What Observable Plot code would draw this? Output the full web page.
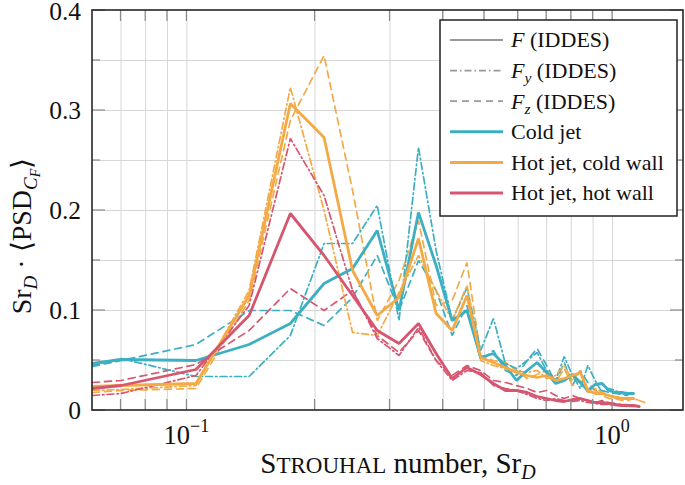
<!DOCTYPE html>
<html><head><meta charset="utf-8">
<script src="https://cdn.jsdelivr.net/npm/d3@7"></script>
<script src="https://cdn.jsdelivr.net/npm/@observablehq/plot@0.6"></script>
<style>
body{margin:0;background:#fff;}
#chart{width:685px;height:485px;}
svg text, svg tspan{font-family:"Liberation Serif","Times New Roman",serif;}
</style></head><body><div id="chart"></div>
<script>
// Strouhal numbers of the spectral bins
const strouhal = [0.06, 0.07, 0.105, 0.14, 0.175, 0.21, 0.245, 0.28, 0.315, 0.35, 0.385, 0.42, 0.455, 0.49, 0.525, 0.56, 0.595, 0.63, 0.665, 0.70, 0.735, 0.77, 0.805, 0.84, 0.875, 0.91, 0.945, 0.98, 1.015, 1.05, 1.085, 1.12, 1.155, 1.19];

const coldF  = [0.047, 0.051, 0.050, 0.066, 0.087, 0.127, 0.142, 0.180, 0.100, 0.198, 0.145, 0.090, 0.100, 0.053, 0.057, 0.045, 0.030, 0.040, 0.048, 0.038, 0.027, 0.030, 0.036, 0.028, 0.020, 0.026, 0.027, 0.020, 0.018, 0.018, 0.017, 0.017, null, null];
const coldFy = [0.045, 0.052, 0.034, 0.034, 0.075, 0.167, 0.167, 0.205, 0.090, 0.263, 0.160, 0.090, 0.123, 0.060, 0.092, 0.047, 0.042, 0.050, 0.058, 0.040, 0.030, 0.054, 0.035, 0.022, 0.045, 0.030, 0.018, 0.022, 0.020, 0.017, 0.016, null, null, null];
const coldFz = [0.044, 0.050, 0.066, 0.100, 0.100, 0.085, 0.113, 0.155, 0.100, 0.150, 0.120, 0.075, 0.105, 0.050, 0.060, 0.040, 0.035, 0.050, 0.062, 0.045, 0.028, 0.048, 0.025, 0.040, 0.028, 0.020, 0.020, 0.018, 0.017, 0.016, 0.015, null, null, null];

const hotColdF  = [0.024, 0.025, 0.027, 0.115, 0.307, 0.273, 0.140, 0.095, 0.113, 0.172, 0.097, 0.080, 0.115, 0.053, 0.048, 0.043, 0.038, 0.035, 0.033, 0.035, 0.030, 0.032, 0.035, 0.038, 0.020, 0.017, 0.017, 0.015, 0.013, 0.012, 0.012, 0.012, null, null];
const hotColdFy = [0.020, 0.021, 0.025, 0.120, 0.323, 0.200, 0.078, 0.075, 0.118, 0.155, 0.120, 0.090, 0.125, 0.050, 0.045, 0.042, 0.040, 0.038, 0.040, 0.032, 0.035, 0.045, 0.030, 0.040, 0.020, 0.022, 0.018, 0.015, 0.014, 0.013, 0.012, 0.012, 0.010, null];
const hotColdFz = [0.018, 0.020, 0.022, 0.110, 0.290, 0.355, 0.220, 0.090, 0.130, 0.190, 0.105, 0.110, 0.148, 0.055, 0.050, 0.048, 0.040, 0.032, 0.036, 0.040, 0.028, 0.042, 0.025, 0.030, 0.018, 0.020, 0.015, 0.012, 0.012, 0.010, 0.010, 0.012, 0.010, 0.008];

const hotHotF  = [0.022, 0.025, 0.041, 0.095, 0.197, 0.155, 0.115, 0.080, 0.067, 0.087, 0.057, 0.032, 0.043, 0.036, 0.027, 0.020, 0.020, 0.018, 0.014, 0.012, 0.010, 0.009, 0.011, 0.012, 0.010, 0.008, 0.008, 0.007, 0.006, 0.005, 0.005, 0.005, 0.004, null];
const hotHotFy = [0.015, 0.017, 0.035, 0.105, 0.272, 0.215, 0.120, 0.072, 0.055, 0.083, 0.050, 0.030, 0.040, 0.038, 0.025, 0.022, 0.020, 0.016, 0.012, 0.010, 0.012, 0.010, 0.009, 0.010, 0.008, 0.007, 0.006, 0.006, 0.005, 0.005, 0.004, 0.004, null, null];
const hotHotFz = [0.028, 0.030, 0.046, 0.080, 0.122, 0.100, 0.120, 0.075, 0.058, 0.080, 0.050, 0.035, 0.045, 0.040, 0.030, 0.028, 0.025, 0.022, 0.018, 0.020, 0.015, 0.012, 0.015, 0.012, 0.010, 0.008, 0.010, 0.008, 0.007, 0.006, 0.006, 0.005, null, null];

const caseNames = ["Cold jet", "Hot jet, cold wall", "Hot jet, hot wall"];
const caseColors = ["#3cafc2", "#f3aa45", "#d6566f"];
const xMajorTicks = [0.1, 1];
const xGrid = [0.07, 0.08, 0.09, 0.1, 0.2, 0.3, 0.4, 0.5, 0.6, 0.7, 0.8, 0.9, 1.0];
const yMajorTicks = [0, 0.1, 0.2, 0.3, 0.4];
const yGrid = [0.05, 0.1, 0.15, 0.2, 0.25, 0.3, 0.35];
const yMinorTicks = [0.05, 0.15, 0.25, 0.35];

const seriesTable = [
  {name: caseNames[0], comp: "Fz", values: coldFz},
  {name: caseNames[1], comp: "Fz", values: hotColdFz},
  {name: caseNames[2], comp: "Fz", values: hotHotFz},
  {name: caseNames[0], comp: "Fy", values: coldFy},
  {name: caseNames[1], comp: "Fy", values: hotColdFy},
  {name: caseNames[2], comp: "Fy", values: hotHotFy},
  {name: caseNames[0], comp: "F", values: coldF},
  {name: caseNames[1], comp: "F", values: hotColdF},
  {name: caseNames[2], comp: "F", values: hotHotF}
];
const styles = {
  F:  {strokeWidth: 2.8, strokeDasharray: null},
  Fy: {strokeWidth: 1.7, strokeDasharray: "7,3,1.5,3"},
  Fz: {strokeWidth: 1.7, strokeDasharray: "7,5"}
};

const lineMarks = seriesTable.map(s => {
  const rows = strouhal.map((st, i) => ({st, psd: s.values[i]})).filter(d => d.psd != null);
  const st = styles[s.comp];
  const opts = {x: "st", y: "psd", stroke: caseColors[caseNames.indexOf(s.name)], strokeWidth: st.strokeWidth, clip: true, strokeLinejoin: "miter"};
  if (st.strokeDasharray) opts.strokeDasharray = st.strokeDasharray;
  return Plot.line(rows, opts);
});

const plot = Plot.plot({
  width: 685, height: 485,
  marginLeft: 92, marginRight: 2, marginTop: 10, marginBottom: 75,
  style: {fontFamily: "'Liberation Serif', 'Times New Roman', serif"},
  x: {type: "log", domain: [0.06, 1.468], axis: null},
  y: {domain: [0, 0.4], axis: null},
  marks: [
    Plot.ruleX(xGrid, {stroke: "#d6d6d6", strokeWidth: 1}),
    Plot.ruleY(yGrid, {stroke: "#d6d6d6", strokeWidth: 1}),
    ...lineMarks
  ]
});

const FONT = "'Liberation Serif', 'Times New Roman', serif";
const xs = v => plot.scale("x").apply(v);
const ys = v => plot.scale("y").apply(v);
const svg = d3.select(plot);
const L = xs(0.06), R = xs(1.468), T = ys(0.4), B = ys(0);
const g = svg.append("g").attr("font-family", FONT).style("font-family", FONT).attr("text-anchor", "start");

// ticks
const tickColor = "#8a8a8a";
xGrid.forEach(v => {
  g.append("line").attr("x1", xs(v)).attr("x2", xs(v)).attr("y1", B).attr("y2", B - 11).attr("stroke", tickColor).attr("stroke-width", 1.2);
  g.append("line").attr("x1", xs(v)).attr("x2", xs(v)).attr("y1", T).attr("y2", T + 11).attr("stroke", tickColor).attr("stroke-width", 1.2);
});
yMajorTicks.forEach(v => {
  g.append("line").attr("x1", L).attr("x2", L + 13).attr("y1", ys(v)).attr("y2", ys(v)).attr("stroke", tickColor).attr("stroke-width", 1.2);
  g.append("line").attr("x1", R).attr("x2", R - 13).attr("y1", ys(v)).attr("y2", ys(v)).attr("stroke", tickColor).attr("stroke-width", 1.2);
});
yMinorTicks.forEach(v => {
  g.append("line").attr("x1", L).attr("x2", L + 8).attr("y1", ys(v)).attr("y2", ys(v)).attr("stroke", tickColor).attr("stroke-width", 1.2);
  g.append("line").attr("x1", R).attr("x2", R - 8).attr("y1", ys(v)).attr("y2", ys(v)).attr("stroke", tickColor).attr("stroke-width", 1.2);
});
// frame
g.append("rect").attr("x", L).attr("y", T).attr("width", R - L).attr("height", B - T)
  .attr("fill", "none").attr("stroke", "#262626").attr("stroke-width", 1.6);

// y tick labels
yMajorTicks.forEach(v => {
  g.append("text").attr("x", L - 11).attr("y", ys(v) + (v === 0.4 ? 1 : 0)).attr("dy", "0.34em")
    .attr("text-anchor", "end").attr("font-size", 25.5).attr("fill", "#111").text(v === 0 ? "0" : String(v));
});
// x tick labels
const xExp = ["\u22121", "0"];
xMajorTicks.forEach((v, i) => {
  const t = g.append("text").attr("x", xs(v)).attr("y", B + 34).attr("text-anchor", "middle").attr("font-size", 26.5).attr("fill", "#111");
  t.append("tspan").text("10");
  t.append("tspan").attr("dy", -12).attr("font-size", 18).text(xExp[i]);
});
// x axis label
const xl = g.append("text").attr("x", 398).attr("y", B + 63).attr("text-anchor", "middle").attr("font-size", 29).attr("fill", "#111");
xl.append("tspan").text("S");
xl.append("tspan").attr("font-size", 23).text("TROUHAL");
xl.append("tspan").text(" number, Sr");
xl.append("tspan").attr("dy", 6).attr("font-size", 20).attr("font-style", "italic").text("D");

// y axis label
const yl = g.append("text").attr("transform", `translate(31,236) rotate(-90)`).attr("text-anchor", "middle").attr("font-size", 28).attr("fill", "#111");
yl.append("tspan").text("Sr");
yl.append("tspan").attr("dy", 6).attr("font-size", 19).attr("font-style", "italic").text("D");
yl.append("tspan").attr("dy", -6).text(" \u00b7 \u27e8PSD");
yl.append("tspan").attr("dy", 6).attr("font-size", 19).attr("font-style", "italic").text("C");
yl.append("tspan").attr("dy", 3).attr("font-size", 14).attr("font-style", "italic").text("F");
yl.append("tspan").attr("dy", -9).text("\u27e9");

// legend
const lg = svg.append("g").attr("font-family", FONT).style("font-family", FONT).attr("text-anchor", "start");
lg.append("rect").attr("x", 440).attr("y", 20).attr("width", 237).attr("height", 196)
  .attr("fill", "#fff").attr("stroke", "#222").attr("stroke-width", 1.5);
const legendRows = [
  {label: [["F", "italic"], [" (IDDES)"]], stroke: "#999", w: 1.8, dash: null},
  {label: [["F", "italic"], ["y", "sub"], [" (IDDES)"]], stroke: "#999", w: 1.8, dash: "7,3,1.5,3"},
  {label: [["F", "italic"], ["z", "sub"], [" (IDDES)"]], stroke: "#999", w: 1.8, dash: "7,5"},
  {label: [[caseNames[0]]], stroke: caseColors[0], w: 3, dash: null},
  {label: [[caseNames[1]]], stroke: caseColors[1], w: 3, dash: null},
  {label: [[caseNames[2]]], stroke: caseColors[2], w: 3, dash: null}
];
legendRows.forEach((r, i) => {
  const y = 40 + i * 30.6;
  const ln = lg.append("line").attr("x1", 450).attr("x2", 503).attr("y1", y).attr("y2", y)
    .attr("stroke", r.stroke).attr("stroke-width", r.w);
  if (r.dash) ln.attr("stroke-dasharray", r.dash);
  const t = lg.append("text").attr("x", 511).attr("y", y).attr("dy", "0.34em").attr("text-anchor", "start").attr("font-size", 22).attr("fill", "#111");
  let shifted = false;
  r.label.forEach(([s, st]) => {
    const ts = t.append("tspan").text(s);
    if (st === "italic") ts.attr("font-style", "italic");
    if (st === "sub") { ts.attr("font-style", "italic").attr("font-size", 15.5).attr("dy", 5); shifted = true; }
    else if (shifted) { ts.attr("dy", -5); shifted = false; }
  });
});

document.getElementById("chart").appendChild(plot);
</script></body></html>
